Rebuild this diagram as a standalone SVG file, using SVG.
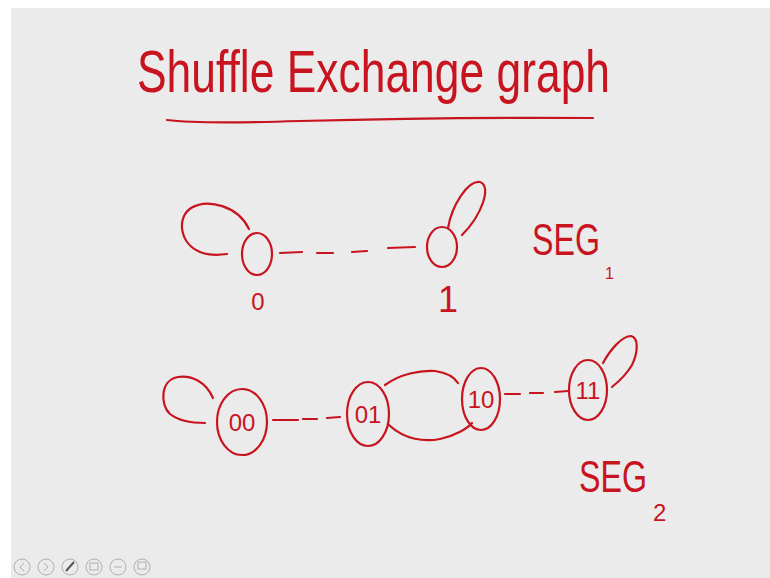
<svg xmlns="http://www.w3.org/2000/svg" width="770" height="578" viewBox="0 0 770 578">
<defs>
<style>
.ink{fill:none;stroke:#c8141f;stroke-width:2.2;stroke-linecap:round;stroke-linejoin:round}
.dash{fill:none;stroke:#c8141f;stroke-width:2.2;stroke-linecap:round}
.t{fill:#c8141f;font-family:"Liberation Sans",Arial,sans-serif}
.icon{fill:none;stroke:#b0b0b0;stroke-width:1}
</style>
</defs>
<rect x="0" y="0" width="770" height="578" fill="#ffffff"/>
<rect x="11" y="8" width="759" height="570" fill="#ebebeb"/>

<g id="title">
<text class="t" transform="translate(137,92) scale(0.74,1)" x="0" y="0" font-size="60">Shuffle Exchange graph</text>
<path class="ink" d="M167,120 Q200,124 300,121 Q450,117 593,118"/>
</g>

<g id="connectors">
<path class="ink" d="M249,229 C238,206 208,198 191,208 C176,218 180,244 200,252 C210,256 220,255 227,254"/>
<path class="ink" d="M448,228 C452,205 468,180 480,182 C492,186 482,215 462,235"/>
<path class="dash" d="M280,253 L302,252 M317,253 L333,253 M352,252 L367,251 M388,248 L415,247"/>
<path class="ink" d="M213,398 C206,382 192,375 178,377 C160,380 160,405 170,414 C180,422 195,423 205,423"/>
<path class="dash" d="M273,420 L298,420 M303,419 L317,419 M327,418 L340,417"/>
<path class="ink" d="M385,385 C400,374 420,370 435,371 C448,373 455,378 458,383"/>
<path class="ink" d="M389,425 C405,440 425,442 440,439 C455,436 468,428 472,423"/>
<path class="dash" d="M505,394 L520,394 M530,393 L543,393 M555,392 L568,391"/>
<path class="ink" d="M603,363 C610,350 622,336 631,336 C639,338 638,352 632,365 C626,375 617,383 612,387"/>
</g>

<g id="node-0">
<ellipse class="ink" cx="257" cy="254" rx="15" ry="21"/>
<text class="t" x="258" y="310" font-size="24" text-anchor="middle">0</text>
</g>
<g id="node-1">
<ellipse class="ink" cx="442" cy="247" rx="15" ry="20"/>
<text class="t" x="448" y="312" font-size="36" text-anchor="middle">1</text>
</g>
<g id="label-seg1">
<text class="t" x="532" y="255" font-size="44" textLength="68" lengthAdjust="spacingAndGlyphs">SEG</text>
<text class="t" x="605" y="279" font-size="16">1</text>
</g>

<g id="node-00">
<ellipse class="ink" cx="242" cy="422" rx="25" ry="33"/>
<text class="t" x="242" y="431" font-size="24" text-anchor="middle">00</text>
</g>
<g id="node-01">
<ellipse class="ink" cx="368" cy="414" rx="21" ry="32"/>
<text class="t" x="368" y="423" font-size="24" text-anchor="middle">01</text>
</g>
<g id="node-10">
<ellipse class="ink" cx="481" cy="399" rx="19" ry="31"/>
<text class="t" x="481" y="408" font-size="24" text-anchor="middle">10</text>
</g>
<g id="node-11">
<ellipse class="ink" cx="588" cy="390" rx="19" ry="30"/>
<text class="t" x="588" y="399" font-size="24" text-anchor="middle">11</text>
</g>
<g id="label-seg2">
<text class="t" x="579" y="492" font-size="44" textLength="68" lengthAdjust="spacingAndGlyphs">SEG</text>
<text class="t" x="653" y="521" font-size="24">2</text>
</g>

<g id="toolbar">
<circle class="icon" cx="22" cy="567" r="8"/><path class="icon" d="M24,563 L20,567 L24,571"/>
<circle class="icon" cx="46" cy="567" r="8"/><path class="icon" d="M44,563 L48,567 L44,571"/>
<circle class="icon" cx="70" cy="567" r="8"/><path d="M66,571 L74,562" stroke="#555" stroke-width="2"/>
<circle class="icon" cx="94" cy="567" r="8"/><rect class="icon" x="90" y="563" width="8" height="7"/>
<circle class="icon" cx="118" cy="567" r="8"/><path class="icon" d="M114,567 h8"/>
<circle class="icon" cx="142" cy="567" r="8"/><rect class="icon" x="138" y="562" width="8" height="7"/>
</g>
</svg>
